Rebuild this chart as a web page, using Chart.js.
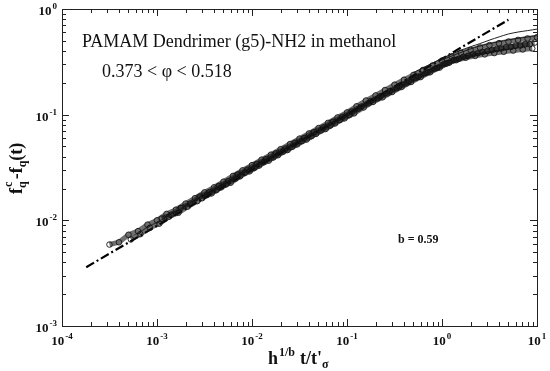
<!DOCTYPE html>
<html>
<head>
<meta charset="utf-8">
<script src="https://cdn.jsdelivr.net/npm/chart.js@4"></script>
<style>
  html, body { margin: 0; padding: 0; background: #fff; }
  #wrap { width: 550px; height: 371px; position: relative; }
</style>
</head>
<body>
<div id="wrap"><canvas id="myChart"></canvas></div>
<script>
// scaled data, several phi values superposed
const xA = [3.16e-4, 3.98e-4, 5.01e-4, 6.31e-4, 7.94e-4, 1.0e-3, 1.26e-3, 1.58e-3, 2.0e-3, 2.51e-3,
  3.16e-3, 3.98e-3, 5.01e-3, 6.31e-3, 7.94e-3, 1.0e-2, 1.26e-2, 1.58e-2, 2.0e-2, 2.51e-2,
  3.16e-2, 3.98e-2, 5.01e-2, 6.31e-2, 7.94e-2, 0.1, 0.126, 0.158, 0.2, 0.251,
  0.316, 0.398, 0.501, 0.631, 0.794, 1.0, 1.26, 1.58, 2.0, 2.51,
  3.16, 3.98, 5.01, 6.31, 7.94, 10];
const yA = [5.9e-3, 6.2e-3, 7.3e-3, 7.9e-3, 9.1e-3, 1.0e-2, 1.15e-2, 1.26e-2, 1.44e-2, 1.62e-2,
  1.84e-2, 2.05e-2, 2.32e-2, 2.63e-2, 2.97e-2, 3.33e-2, 3.75e-2, 4.18e-2, 4.71e-2, 5.27e-2,
  5.93e-2, 6.64e-2, 7.46e-2, 8.36e-2, 9.40e-2, 0.105, 0.120, 0.136, 0.152, 0.171,
  0.192, 0.214, 0.238, 0.265, 0.292, 0.325, 0.356, 0.385, 0.410, 0.432,
  0.455, 0.475, 0.492, 0.510, 0.526, 0.540];

const xB = [5.31e-4, 6.68e-4, 8.41e-4, 1.06e-3, 1.33e-3, 1.68e-3, 2.11e-3, 2.66e-3, 3.35e-3, 4.22e-3,
  5.31e-3, 6.68e-3, 8.41e-3, 1.06e-2, 1.33e-2, 1.68e-2, 2.11e-2, 2.66e-2, 3.35e-2, 4.22e-2,
  5.31e-2, 6.68e-2, 8.41e-2, 0.106, 0.133, 0.168, 0.211, 0.266, 0.335, 0.422,
  0.531, 0.668, 0.841, 1.06, 1.33, 1.68, 2.11, 2.66, 3.35, 4.22,
  5.31, 6.68, 8.41];
const yB = [6.6e-3, 7.4e-3, 8.5e-3, 9.3e-3, 1.08e-2, 1.18e-2, 1.35e-2, 1.52e-2, 1.74e-2, 1.93e-2,
  2.19e-2, 2.48e-2, 2.82e-2, 3.13e-2, 3.56e-2, 3.94e-2, 4.46e-2, 4.97e-2, 5.63e-2, 6.25e-2,
  7.09e-2, 7.89e-2, 8.91e-2, 9.93e-2, 0.114, 0.128, 0.143, 0.159, 0.178, 0.198,
  0.222, 0.247, 0.273, 0.304, 0.330, 0.353, 0.373, 0.391, 0.407, 0.423,
  0.437, 0.451, 0.464];

const xC = [1.12e-3, 1.41e-3, 1.78e-3, 2.24e-3, 2.82e-3, 3.55e-3, 4.47e-3, 5.62e-3, 7.08e-3, 8.91e-3,
  1.12e-2, 1.41e-2, 1.78e-2, 2.24e-2, 2.82e-2, 3.55e-2, 4.47e-2, 5.62e-2, 7.08e-2, 8.91e-2,
  0.112, 0.141, 0.178, 0.224, 0.282, 0.355, 0.447, 0.562, 0.708, 0.891,
  1.12, 1.41, 1.78, 2.24, 2.82, 3.55, 4.47, 5.62, 7.08, 8.91];
const yC = [1.04e-2, 1.13e-2, 1.31e-2, 1.44e-2, 1.68e-2, 1.85e-2, 2.12e-2, 2.35e-2, 2.72e-2, 3.02e-2,
  3.42e-2, 3.80e-2, 4.30e-2, 4.78e-2, 5.41e-2, 6.02e-2, 6.82e-2, 7.57e-2, 8.57e-2, 9.53e-2,
  0.107, 0.119, 0.135, 0.149, 0.167, 0.185, 0.207, 0.229, 0.252, 0.277,
  0.305, 0.328, 0.346, 0.360, 0.372, 0.383, 0.394, 0.404, 0.414, 0.423];

const xD = [2.99e-3, 3.76e-3, 4.73e-3, 5.96e-3, 7.50e-3, 9.44e-3, 1.19e-2, 1.50e-2, 1.88e-2, 2.37e-2,
  2.99e-2, 3.76e-2, 4.73e-2, 5.96e-2, 7.50e-2, 9.44e-2, 0.119, 0.150, 0.188, 0.237,
  0.299, 0.376, 0.473, 0.596, 0.750, 0.944, 1.19, 1.50, 1.88, 2.37,
  2.99, 3.76, 4.73, 5.96, 7.50, 9.44];
const yD = [1.62e-2, 1.80e-2, 2.05e-2, 2.27e-2, 2.61e-2, 2.91e-2, 3.30e-2, 3.67e-2, 4.14e-2, 4.63e-2,
  5.23e-2, 5.82e-2, 6.58e-2, 7.32e-2, 8.26e-2, 9.23e-2, 0.103, 0.117, 0.132, 0.146,
  0.164, 0.183, 0.204, 0.227, 0.252, 0.279, 0.310, 0.337, 0.360, 0.381,
  0.400, 0.418, 0.435, 0.450, 0.465, 0.480];

// thin solid curves above the band at long times
const xLine1 = [0.5, 1.0, 1.5, 2.0, 2.5, 3.2, 4.0, 5.0, 6.3, 8.0, 10];
const yLine1 = [0.25, 0.34, 0.40, 0.44, 0.47, 0.51, 0.545, 0.58, 0.605, 0.625, 0.645];
const xLine2 = [1.0, 2.0, 3.0, 5.0, 7.0, 10];
const yLine2 = [0.33, 0.42, 0.465, 0.51, 0.535, 0.56];

// power law fit, b = 0.59
const xFit = [1.8e-4, 5.0];
const yFit = [3.6e-3, 0.79];

const xTickLabels = ['-4', '-3', '-2', '-1', '0', '1'];
const yTickLabels = ['-3', '-2', '-1', '0'];

const pts = (xs, ys) => xs.map((x, i) => ({ x: x, y: ys[i] }));

const serif = '"Liberation Serif", "Times New Roman", serif';

const scatterStyle = {
  showLine: true,
  borderColor: 'rgba(15,15,15,0.6)',
  borderWidth: 5,
  pointStyle: 'circle',
  pointRadius: 2.8,
  pointBorderWidth: 1,
  pointBorderColor: 'rgba(20,20,20,0.9)',
  pointBackgroundColor: 'rgba(255,255,255,0)'
};

function pow10(ctx, base, exp, x, y, size, align) {
  ctx.font = 'bold ' + size + 'px ' + serif;
  const wb = ctx.measureText(base).width;
  ctx.font = 'bold ' + Math.round(size * 0.7) + 'px ' + serif;
  const we = ctx.measureText(exp).width;
  const total = wb + we + 1;
  let x0 = x;
  if (align === 'center') x0 = x - total / 2;
  if (align === 'right') x0 = x - total;
  ctx.textAlign = 'left';
  ctx.textBaseline = 'alphabetic';
  ctx.font = 'bold ' + size + 'px ' + serif;
  ctx.fillText(base, x0, y);
  ctx.font = 'bold ' + Math.round(size * 0.7) + 'px ' + serif;
  ctx.fillText(exp, x0 + wb + 1, y - size * 0.45);
}

const framePlugin = {
  id: 'frame',
  afterDraw(chart) {
    const ctx = chart.ctx;
    const a = chart.chartArea;
    const sx = chart.scales.x, sy = chart.scales.y;
    ctx.save();
    ctx.strokeStyle = '#222';
    ctx.fillStyle = '#111';
    ctx.lineWidth = 1;
    ctx.strokeRect(a.left + 0.5, a.top + 0.5, a.right - a.left, a.bottom - a.top);

    // inward ticks on all four sides
    ctx.beginPath();
    for (let e = -4; e <= 1; e++) {
      for (let m = 1; m <= 9; m++) {
        const v = m * Math.pow(10, e);
        if (v > 10.0001) break;
        const px = Math.round(sx.getPixelForValue(v)) + 0.5;
        const len = m === 1 ? 7 : 4;
        ctx.moveTo(px, a.bottom); ctx.lineTo(px, a.bottom - len);
        ctx.moveTo(px, a.top); ctx.lineTo(px, a.top + len);
      }
    }
    for (let e = -3; e <= 0; e++) {
      for (let m = 1; m <= 9; m++) {
        const v = m * Math.pow(10, e);
        if (v > 1.0001) break;
        const py = Math.round(sy.getPixelForValue(v)) + 0.5;
        const len = m === 1 ? 7 : 4;
        ctx.moveTo(a.left, py); ctx.lineTo(a.left + len, py);
        ctx.moveTo(a.right, py); ctx.lineTo(a.right - len, py);
      }
    }
    ctx.stroke();

    // tick labels
    xTickLabels.forEach(function (ex) {
      const px = sx.getPixelForValue(Math.pow(10, Number(ex)));
      pow10(ctx, '10', ex, px, a.bottom + 19, 13, 'center');
    });
    yTickLabels.forEach(function (ex) {
      const py = sy.getPixelForValue(Math.pow(10, Number(ex)));
      pow10(ctx, '10', ex, a.left - 5, py + 6, 13, 'right');
    });

    // x axis title: h^{1/b} t/t'_sigma
    ctx.textAlign = 'left';
    ctx.textBaseline = 'alphabetic';
    let x = 268, y = 364;
    ctx.font = 'bold 18px ' + serif;
    ctx.fillText('h', x, y); x += ctx.measureText('h').width + 1;
    ctx.font = 'bold 12px ' + serif;
    ctx.fillText('1/b', x, y - 8); x += ctx.measureText('1/b').width + 5;
    ctx.font = 'bold 18px ' + serif;
    ctx.fillText("t/t'", x, y); x += ctx.measureText("t/t'").width;
    ctx.font = 'bold 12px ' + serif;
    ctx.fillText('\u03c3', x, y + 4);

    // y axis title: f_q^c - f_q(t)
    ctx.save();
    ctx.translate(22, 194);
    ctx.rotate(-Math.PI / 2);
    let t = 0;
    ctx.font = 'bold 18px ' + serif;
    ctx.fillText('f', t, 0); t += ctx.measureText('f').width;
    ctx.font = 'bold 12px ' + serif;
    ctx.fillText('c', t + 1, -10);
    ctx.fillText('q', t, 4); t += ctx.measureText('q').width + 2;
    ctx.font = 'bold 18px ' + serif;
    ctx.fillText('-f', t, 0); t += ctx.measureText('-f').width;
    ctx.font = 'bold 12px ' + serif;
    ctx.fillText('q', t, 4); t += ctx.measureText('q').width;
    ctx.font = 'bold 18px ' + serif;
    ctx.fillText('(t)', t, 0);
    ctx.restore();

    // annotations
    ctx.font = '18px ' + serif;
    ctx.fillText('PAMAM Dendrimer (g5)-NH2 in methanol', 82, 47);
    ctx.fillText('0.373 < \u03c6 < 0.518', 102, 77);
    ctx.font = 'bold 12px ' + serif;
    ctx.fillText('b = 0.59', 398, 243);
    ctx.restore();
  }
};

const ctx = document.getElementById('myChart').getContext('2d');

const myChart = new Chart(ctx, {
  type: 'scatter',
  data: {
    datasets: [
      Object.assign({ label: 'A', data: pts(xA, yA) }, scatterStyle),
      Object.assign({ label: 'B', data: pts(xB, yB) }, scatterStyle),
      Object.assign({ label: 'C', data: pts(xC, yC) }, scatterStyle),
      Object.assign({ label: 'D', data: pts(xD, yD) }, scatterStyle),
      {
        label: 'line1', data: pts(xLine1, yLine1), showLine: true,
        borderColor: '#222', borderWidth: 1, pointRadius: 0, tension: 0.3
      },
      {
        label: 'line2', data: pts(xLine2, yLine2), showLine: true,
        borderColor: '#333', borderWidth: 1, pointRadius: 0, tension: 0.3
      },
      {
        label: 'fit', data: pts(xFit, yFit), showLine: true,
        borderColor: '#000', borderWidth: 2.2, borderDash: [9, 3, 2, 3],
        pointRadius: 0
      }
    ]
  },
  options: {
    responsive: true,
    maintainAspectRatio: false,
    animation: false,
    layout: { padding: { left: 62, right: 13, top: 9, bottom: 45 } },
    scales: {
      x: { type: 'logarithmic', min: 1e-4, max: 10, display: false },
      y: { type: 'logarithmic', min: 1e-3, max: 1, display: false }
    },
    plugins: {
      legend: { display: false },
      tooltip: { enabled: false }
    }
  },
  plugins: [framePlugin]
});
</script>
</body>
</html>
